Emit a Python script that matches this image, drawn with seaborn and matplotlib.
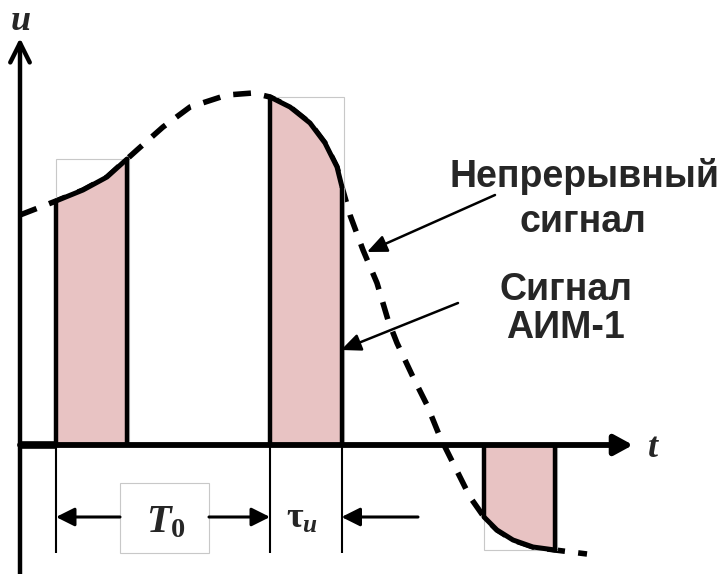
import numpy as np
import pandas as pd
import seaborn as sns
import matplotlib.pyplot as plt
from matplotlib.patches import Rectangle

# continuous signal u(t) (t-axis origin at the u-axis)
signal_t = [0.00, 0.18, 0.36, 0.63, 0.87, 1.07, 1.17, 1.43, 1.70, 2.07, 2.33,
            2.50, 2.70, 2.90, 3.05, 3.17, 3.22, 3.30, 3.43, 3.57, 3.68, 3.77,
            3.93, 4.07, 4.20, 4.33, 4.50, 4.64, 4.77, 4.93, 5.13, 5.35, 5.67]
signal_u = [2.30, 2.37, 2.44, 2.55, 2.68, 2.86, 2.95, 3.18, 3.38, 3.50, 3.52,
            3.48, 3.38, 3.22, 3.02, 2.78, 2.58, 2.30, 1.95, 1.62, 1.25, 1.02,
            0.68, 0.40, 0.08, -0.18, -0.52, -0.72, -0.85, -0.95, -1.02, -1.05, -1.09]

# AIM-1 sampling pulses
pulse_start = [0.36, 2.50, 4.64]
pulse_width = 0.715

label_cont = ["Непрерывный", "сигнал"]
label_aim = ["Сигнал", "АИМ-1"]

fill_color = "#e8c3c3"
frame_color = "#c8c8c8"

df = pd.DataFrame({"t": signal_t, "u": signal_u})

sns.set_theme(style="white")
plt.rcParams["mathtext.fontset"] = "custom"
plt.rcParams["mathtext.it"] = "Liberation Serif:italic:bold"
plt.rcParams["mathtext.rm"] = "Liberation Serif:bold"

fig = plt.figure(figsize=(7.25, 5.74), dpi=100)
ax = fig.add_axes([0, 0, 1, 1])
ax.set_xlim(-0.20, 7.05)
ax.set_ylim(-1.29, 4.45)
ax.axis("off")

# continuous signal, dashed
sns.lineplot(data=df, x="t", y="u", sort=False, ax=ax, color="black",
             lw=4.0, linestyle=(0, (3.2, 2.4)), zorder=2)

# pulses: fill, grey frame, solid top, thick edges
for t0 in pulse_start:
    p = df[(df.t >= t0 - 0.02) & (df.t <= t0 + pulse_width + 0.02)]
    ax.fill_between(p.t, 0, p.u, color=fill_color, lw=0, zorder=3)
    lo, hi = min(0, p.u.min()), max(0, p.u.max())
    ax.add_patch(Rectangle((p.t.iloc[0], lo), p.t.iloc[-1] - p.t.iloc[0] + 0.02, hi - lo,
                           fill=False, ec=frame_color, lw=0.8, zorder=2.5))
    sns.lineplot(data=p, x="t", y="u", sort=False, ax=ax, color="black", lw=3.6, zorder=4)
    ax.vlines([p.t.iloc[0], p.t.iloc[-1]], 0, [p.u.iloc[0], p.u.iloc[-1]],
              color="black", lw=3.2, zorder=4)

# axes with arrows
ax.annotate("", xy=(0, 4.07), xytext=(0, -1.29),
            arrowprops=dict(arrowstyle="->,head_length=0.7,head_width=0.35",
                            mutation_scale=20, lw=3.2, color="black",
                            shrinkA=0, shrinkB=0), zorder=5)
ax.annotate("", xy=(6.13, 0), xytext=(0, 0),
            arrowprops=dict(arrowstyle="-|>,head_length=0.55,head_width=0.3",
                            mutation_scale=20, lw=4.2, color="black",
                            shrinkA=0, shrinkB=0), zorder=5)
ax.plot([0, pulse_start[0]], [0, 0], color="black", lw=5.5, solid_capstyle="butt", zorder=5)
ax.text(0.01, 4.15, "u", fontsize=26, family="Liberation Serif", style="italic",
        weight="bold", ha="center", va="baseline")
ax.text(6.33, -0.12, "t", fontsize=26, family="Liberation Serif", style="italic",
        weight="bold", ha="center", va="baseline")

# dimension lines T0 and tau
dim_u = -0.72
p2_end = pulse_start[1] + pulse_width
ax.vlines([pulse_start[0], pulse_start[1], p2_end], -1.08, 0, color="black", lw=1.5, zorder=4)
head = dict(arrowstyle="-|>,head_length=0.7,head_width=0.35", mutation_scale=16,
            lw=2.2, color="black", shrinkA=0, shrinkB=0)
ax.annotate("", xy=(pulse_start[0], dim_u), xytext=(1.00, dim_u), arrowprops=head)
ax.annotate("", xy=(pulse_start[1], dim_u), xytext=(1.89, dim_u), arrowprops=head)
ax.annotate("", xy=(p2_end, dim_u), xytext=(3.98, dim_u), arrowprops=head)
ax.add_patch(Rectangle((1.00, -1.08), 0.89, 0.70, fill=False, ec=frame_color, lw=0.8))
ax.text(1.46, -0.87, "$T_0$", fontsize=29, ha="center", va="baseline")
ax.text(2.82, -0.83, r"$\mathrm{\tau}_u$", fontsize=26, ha="center", va="baseline")

# labels with pointer arrows
txt = dict(fontsize=27, family="Liberation Sans", weight="bold", ha="center", va="baseline")
ax.text(5.64, 2.58, label_cont[0], **txt)
ax.text(5.63, 2.13, label_cont[1], **txt)
ax.text(5.46, 1.45, label_aim[0], **txt)
ax.text(5.45, 1.07, label_aim[1], **txt)
ptr = dict(arrowstyle="-|>,head_length=0.8,head_width=0.35", mutation_scale=15,
           lw=1.8, color="black", shrinkA=0, shrinkB=0)
ax.annotate("", xy=(3.47, 1.93), xytext=(4.75, 2.50), arrowprops=ptr, zorder=6)
ax.annotate("", xy=(3.21, 0.95), xytext=(4.38, 1.42), arrowprops=ptr, zorder=6)

fig.savefig("out.png", dpi=100)
plt.close(fig)
